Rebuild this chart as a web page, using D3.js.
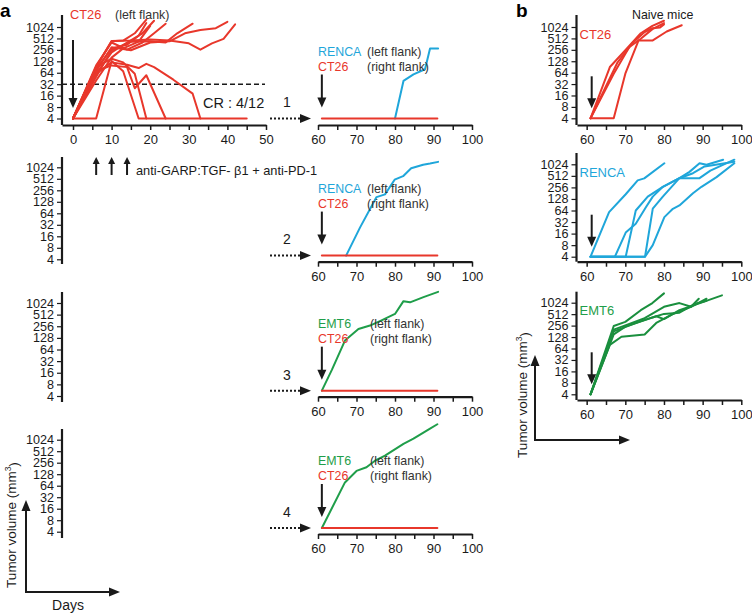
<!DOCTYPE html>
<html><head><meta charset="utf-8">
<script src="https://cdn.jsdelivr.net/npm/d3@7"></script>
<style>
body{margin:0;background:#fff;}
svg{font-family:"Liberation Sans",Arial,Helvetica,sans-serif;}
</style></head><body>
<svg id="chart" width="752" height="613"></svg>
<script>
// ---------------- DATA ----------------
const yTickValues = [4, 8, 16, 32, 64, 128, 256, 512, 1024];
const xTicksPrimary = [0, 5, 10, 15, 20, 25, 30, 35, 40, 45, 50];
const xTicksLate = [60, 65, 70, 75, 80, 85, 90, 95, 100];
const treatmentDays = [6, 10, 14];
const crThreshold = 32;
const crLabel = "CR : 4/12";
const treatmentLabel = "anti-GARP:TGF- \u03b21 + anti-PD-1";
const rowNumbers = ["1", "2", "3", "4"];

// CT26 primary tumours (left flank), treated mice (day, mm3)
const ct26Primary = [
  [[0,4],[6,90],[10,430],[13,450],[16,700],[19,1600]],
  [[0,4],[6,80],[10,280],[14,350],[17,600],[19,1300]],
  [[0,4],[6,60],[10,220],[14,400],[18,700],[21,1500]],
  [[0,4],[6,100],[10,400],[14,260],[18,400],[21,700],[24,1250]],
  [[0,4],[6,50],[10,250],[15,420],[20,430],[24,400],[27,700],[31,1250]],
  [[0,4],[6,70],[10,300],[15,250],[20,400],[25,430],[29,700],[33,850],[37,950],[40,1400]],
  [[0,4],[6,90],[10,440],[15,450],[20,480],[25,450],[30,380],[33,260],[36,380],[39,500],[42,1200]],
  [[0,4],[6,40],[10,160],[13,280],[17,420],[20,1100]],
  [[0,4],[6,4],[10,130],[13,70],[17,4],[45,4]],
  [[0,4],[6,90],[10,150],[13,120],[16,60],[19,4]],
  [[0,4],[6,70],[10,100],[14,90],[16,25],[19,55],[24,4]],
  [[0,4],[6,60],[10,120],[14,104],[17,85],[19,110],[21,90],[26,42],[31,18],[33,4]]
];

// Re-challenge of cured mice (right flank CT26, left flank other tumour)
const rechallengeCt26 = [
  [[61,4],[91,4]],
  [[61,5],[91,5]],
  [[61,5.5],[91,5.5]],
  [[61,5],[91,5]]
];
const rechallengeOther = [
  [[80,4],[82.2,39],[84.8,58],[87.8,79],[89.1,278],[91.2,278]],
  [[67.3,5],[70.9,27],[75.2,170],[77.4,200],[79.9,485],[82.1,600],[84.2,970],[87.3,1200],[89.1,1280],[91.2,1420]],
  [[61,5.5],[63.6,19],[67,109],[70.5,217],[73.5,267],[76.5,364],[80,533],[82.2,1144],[83.9,1067],[87.4,1457],[91.2,1990]],
  [[61,5],[67,78],[70,156],[72.6,194],[74.8,288],[77.4,391],[82.2,794],[84.8,1090],[89.1,2000],[91,2600]]
];
const rechallengeOtherName = ["RENCA", "RENCA", "EMT6", "EMT6"];

// Naive mice
const naiveCt26 = [
  [[61,4],[66,90],[70,250],[74,700],[77,1100],[80,1500]],
  [[61,4],[67,60],[71,300],[74,500],[77,900],[80,1300]],
  [[61,4],[67,4],[70,60],[73.4,450],[77,450],[80.7,780],[84.6,1140]],
  [[61,4],[68,120],[72,400],[75,750],[77,950],[79,1000],[80,1200]]
];
const naiveRenca = [
  [[61,4],[65.8,58],[70.1,170],[73.2,390],[74.9,440],[80.1,1090]],
  [[61,4],[67.3,4],[70.1,17],[72.7,29],[75.4,80],[77.1,147],[79.7,265],[84,445],[86.6,650],[89.2,1090],[91,1000],[95.3,1350]],
  [[61,4],[70.1,4],[72.7,64],[75.8,147],[79.7,265],[84,445],[89.2,445],[92,700],[98.2,1350]],
  [[61,4],[75.1,4],[77.1,72],[79.7,147],[84,445],[87.5,600],[90.5,900],[98.2,1200]],
  [[61,4],[75.1,4],[77.1,8],[80.1,43],[82.3,71],[84,87],[87.5,180],[89.7,265],[93.6,475],[98.2,1090]]
];
const naiveEmt6 = [
  [[61,4],[67,250],[70,320],[74,650],[77,1000],[80,1800]],
  [[61,4],[67,200],[70,260],[75,400],[80,800],[84,1000],[87,800],[89,1300]],
  [[61,4],[67,150],[70,240],[74,330],[78,450],[80,380],[84,650],[88,900],[95,1600]],
  [[61,4],[66,80],[69,130],[75,150],[78,300],[82,500],[87,800],[91,1300]],
  [[61,4],[67,180],[72,280],[77,420],[80,520],[84,560],[88,950],[91,1150]]
];
const naiveNames = ["CT26", "RENCA", "EMT6"];

// ---------------- STYLE / LAYOUT ----------------
const C = { red: "#e8372b", blue: "#1fa6da", green: "#1f9e4a", greenB: "#1a8f3e", ink: "#1a1a1a", text: "#333" };
const colorOf = { CT26: C.red, RENCA: C.blue, EMT6: C.green };
const svg = d3.select("#chart");
const FONT_TICK = 12.6;
const FONT_LABEL = 12.4;

function arrow(g, x1, y1, x2, y2, o = {}) {
  const hl = o.hl || 10, hw = o.hw || 4.5;
  const ang = Math.atan2(y2 - y1, x2 - x1);
  const bx = x2 - hl * Math.cos(ang), by = y2 - hl * Math.sin(ang);
  g.append("line").attr("x1", x1).attr("y1", y1).attr("x2", bx + Math.cos(ang)).attr("y2", by + Math.sin(ang))
    .attr("stroke", C.ink).attr("stroke-width", o.sw || 2).attr("stroke-dasharray", o.dash || null);
  const px = -Math.sin(ang), py = Math.cos(ang);
  g.append("path").attr("d", `M${x2},${y2}L${bx + px * hw},${by + py * hw}L${bx - px * hw},${by - py * hw}Z`)
    .attr("fill", C.ink);
}

function yAxis(g, y, x0, top, bottom) {
  const ax = g.append("g").attr("transform", `translate(${x0},0)`)
    .call(d3.axisLeft(y).tickValues(yTickValues).tickFormat(d3.format("d")).tickSize(5).tickPadding(3));
  ax.select(".domain").remove();
  ax.selectAll(".tick line").attr("stroke", C.ink).attr("stroke-width", 1.2);
  ax.selectAll(".tick text").attr("font-size", FONT_TICK).attr("fill", C.ink).attr("font-family", null);
  g.append("line").attr("x1", x0).attr("x2", x0).attr("y1", top).attr("y2", bottom)
    .attr("stroke", C.ink).attr("stroke-width", 2.2);
}

function xAxis(g, x, y0, ticks) {
  const ax = g.append("g").attr("transform", `translate(0,${y0})`)
    .call(d3.axisBottom(x).tickValues(ticks).tickFormat(d => d % 10 === 0 ? d : "").tickSize(5).tickPadding(5).tickSizeOuter(0));
  ax.select(".domain").attr("stroke", C.ink).attr("stroke-width", 2.2);
  ax.selectAll(".tick line").attr("stroke", C.ink).attr("stroke-width", 1.5);
  ax.selectAll(".tick text").attr("font-size", FONT_TICK + 0.4).attr("fill", C.ink).attr("font-family", null);
}

function text(g, x, y, s, o = {}) {
  return g.append("text").attr("x", x).attr("y", y).attr("dy", "0.35em").text(s)
    .attr("font-size", o.size || FONT_LABEL).attr("fill", o.fill || C.text)
    .attr("font-weight", o.weight || null).attr("text-anchor", o.anchor || "start");
}

function lines(g, series, x, y, color) {
  const ln = d3.line().x(d => x(d[0])).y(d => y(d[1]));
  g.selectAll(null).data(series).join("path").attr("d", ln)
    .attr("fill", "none").attr("stroke", color).attr("stroke-width", 2)
    .attr("stroke-linejoin", "round").attr("stroke-linecap", "round");
}

const logY = (y4, span) => d3.scaleLog().base(2).domain([4, 1024]).range([y4, y4 - span]);

// ---------------- PANEL a ----------------
const A = svg.append("g");
text(A, 0, 10, "a", { size: 19, weight: "bold", fill: "#000" });

const xPrim = d3.scaleLinear().domain([-2.85, 50]).range([62, 266]);
const xLate = d3.scaleLinear().domain([60, 100]).range([318, 472]);

const rowsA = [
  { y4: 118.5, span: 91.5, axTop: 15, axBot: 125, xAxisY: 125 },
  { y4: 259.3, span: 92, axTop: 157, axBot: 264, xAxisY: 261.7 },
  { y4: 396, span: 93, axTop: 292, axBot: 402, xAxisY: 396.7 },
  { y4: 531.7, span: 92, axTop: 429, axBot: 538, xAxisY: 534 }
];

rowsA.forEach((r, i) => {
  const y = logY(r.y4, r.span);
  yAxis(A, y, 62, r.axTop, r.axBot);
  xAxis(A, xLate, r.xAxisY, xTicksLate);
  lines(A, [rechallengeOther[i]], xLate, y, colorOf[rechallengeOtherName[i]]);
  lines(A, [rechallengeCt26[i]], xLate, y, C.red);
  const base = y(rechallengeCt26[i][0][1]);
  arrow(A, 270, base, 311, base, { dash: "2,2", hl: 11, hw: 4.5 });
  text(A, 287, base - 16, rowNumbers[i], { size: 14, anchor: "middle", fill: C.ink });
  const lx2 = i < 2 ? 367 : 370;
  const l1 = base - 67, l2 = base - 52;
  text(A, 318, l1, rechallengeOtherName[i], { fill: colorOf[rechallengeOtherName[i]] });
  text(A, lx2, l1, "(left flank)");
  text(A, 318, l2, "CT26", { fill: C.red });
  text(A, lx2, l2, "(right flank)");
  arrow(A, xLate(61), base - 44, xLate(61), base - 11, { hl: 10, hw: 4.5 });
  if (i === 0) {
    xAxis(A, xPrim, 125, xTicksPrimary);
    A.append("line").attr("x1", 62).attr("x2", 265).attr("y1", y(crThreshold)).attr("y2", y(crThreshold))
      .attr("stroke", C.ink).attr("stroke-width", 1.6).attr("stroke-dasharray", "5,3");
    lines(A, ct26Primary, xPrim, y, C.red);
    text(A, 70, 15, "CT26", { size: 12.8, fill: C.red });
    text(A, 115, 15, "(left flank)");
    text(A, 203, 103, crLabel, { size: 14.5, fill: C.ink });
    arrow(A, xPrim(0), 40, xPrim(0), 108, { hl: 10, hw: 4.5 });
  }
});

treatmentDays.forEach(d => arrow(A, xPrim(d), 175, xPrim(d), 157, { hl: 7, hw: 3.5 }));
text(A, 136, 171, treatmentLabel, { size: 12.8, fill: C.ink });

arrow(A, 26, 592, 26, 500, { hl: 11, hw: 4.5 });
arrow(A, 25, 592, 120, 592, { hl: 11, hw: 4.5 });
function volTitle(g, cx, cy) {
  const t = g.append("text").attr("transform", `translate(${cx},${cy}) rotate(-90)`)
    .attr("text-anchor", "middle").attr("dy", "0.35em").attr("font-size", 13.5).attr("fill", C.ink);
  t.append("tspan").text("Tumor volume (mm");
  t.append("tspan").text("3").attr("font-size", 8.5).attr("dy", "-0.5em");
  t.append("tspan").text(")").attr("dy", "0.5em");
}
volTitle(A, 11, 525);
text(A, 68, 605, "Days", { size: 14, anchor: "middle", fill: C.ink });

// ---------------- PANEL b ----------------
const B = svg.append("g");
text(B, 516, 10, "b", { size: 19, weight: "bold", fill: "#000" });
const xB = d3.scaleLinear().domain([57.5, 100]).range([577, 741.3]);
const rowsB = [
  { y4: 118.3, span: 91.3, axTop: 15, axBot: 125, data: naiveCt26, color: C.red },
  { y4: 256.7, span: 92.4, axTop: 153, axBot: 261.7, data: naiveRenca, color: C.blue },
  { y4: 394.3, span: 91.6, axTop: 291.7, axBot: 400, data: naiveEmt6, color: C.greenB }
];
rowsB.forEach((r, i) => {
  const y = logY(r.y4, r.span);
  yAxis(B, y, 576.5, r.axTop, r.axBot);
  xAxis(B, xB, r.axBot, xTicksLate);
  lines(B, r.data, xB, y, r.color);
  text(B, 579.5, r.y4 - 84, naiveNames[i], { size: 13, fill: i === 2 ? C.green : r.color });
  arrow(B, xB(61.3), r.y4 - 42, xB(61.3), r.y4 - 10, { hl: 10, hw: 4.5 });
});
text(B, 632, 15, "Naive mice", { fill: C.ink });
arrow(B, 535, 440, 535, 355, { hl: 11, hw: 4.5 });
arrow(B, 534, 440, 630, 440, { hl: 11, hw: 4.5 });
volTitle(B, 522, 395);
</script>
</body></html>
